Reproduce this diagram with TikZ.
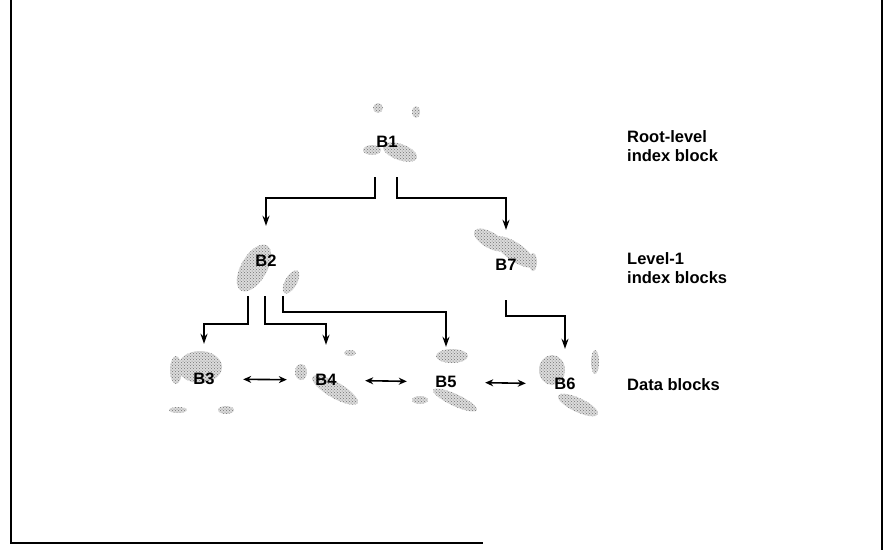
\documentclass[tikz,border=0pt]{standalone}
\usepackage{fontspec}
\setmainfont{Liberation Sans}
\usetikzlibrary{arrows.meta,patterns,backgrounds}
\definecolor{smudgegray}{gray}{0.45}

\tikzset{
  blk/.style={minimum width=76pt, minimum height=70pt, inner sep=0pt, font=\fontsize{16.5}{19}\selectfont\bfseries},
  side/.style={anchor=west, align=left, inner sep=0pt, font=\fontsize{16.5}{19}\selectfont\bfseries},
  arr/.style={line width=1.5pt, -{Stealth[length=10pt,width=7pt]}},
  darr/.style={line width=1.6pt, {Stealth[length=8pt,width=7pt]}-{Stealth[length=8pt,width=7pt]}, shorten <=1pt, shorten >=1pt},
  smudge/.style={fill=gray!28, postaction={pattern=crosshatch dots, pattern color=smudgegray}}
}

\begin{document}
\begin{tikzpicture}[x=1pt,y=-1pt]
        \useasboundingbox (0,0) rectangle (888,550);
        \draw[line width=2pt] (11,0) -- (11,543) -- (483,543);
        \draw[line width=2pt] (882,0) -- (882,550);

        \node[blk] (b1) at (387,142) {B1};
        \node[blk] (b2) at (266,261) {B2};
        \node[blk] (b7) at (506,265) {B7};
        \node[blk] (b3) at (204,379) {B3};
        \node[blk] (b4) at (326,380) {B4};
        \node[blk] (b5) at (446,382) {B5};
        \node[blk] (b6) at (565,384) {B6};

        \node[side] (lroot) at (627,146) {Root-level\\index block};
        \node[side] (llev) at (627,268) {Level-1\\index blocks};
        \node[side] (ldata) at (627,385) {Data blocks};

        \begin{scope}[on background layer]
        \fill[smudge, rotate around={-20:(400,152)}] (400,152) ellipse (18pt and 8pt);
        \fill[smudge] (372,150) ellipse (9pt and 5pt);
        \fill[smudge] (378,108) ellipse (5pt and 5pt);
        \fill[smudge] (416,112) ellipse (4pt and 6pt);
        \fill[smudge, rotate around={60:(254,268)}] (254,268) ellipse (26pt and 13pt);
        \fill[smudge, rotate around={60:(291,282)}] (291,282) ellipse (13pt and 6pt);
        \fill[smudge, rotate around={-30:(490,240)}] (490,240) ellipse (18pt and 8pt);
        \fill[smudge, rotate around={-35:(515,252)}] (515,252) ellipse (24pt and 9pt);
        \fill[smudge] (533,262) ellipse (4pt and 9pt);
        \fill[smudge] (200,367) ellipse (22pt and 16pt);
        \fill[smudge] (176,370) ellipse (6pt and 14pt);
        \fill[smudge] (178,410) ellipse (9pt and 3pt);
        \fill[smudge] (226,410) ellipse (8pt and 4pt);
        \fill[smudge, rotate around={-30:(335,390)}] (335,390) ellipse (26pt and 8pt);
        \fill[smudge] (301,372) ellipse (6pt and 8pt);
        \fill[smudge] (350,353) ellipse (6pt and 3pt);
        \fill[smudge] (452,356) ellipse (16pt and 7pt);
        \fill[smudge, rotate around={-25:(455,400)}] (455,400) ellipse (24pt and 6pt);
        \fill[smudge] (420,400) ellipse (8pt and 4pt);
        \fill[smudge] (552,370) ellipse (13pt and 15pt);
        \fill[smudge] (595,362) ellipse (4pt and 12pt);
        \fill[smudge, rotate around={-25:(578,405)}] (578,405) ellipse (22pt and 7pt);
        \end{scope}

        \draw[arr] ([xshift=-12pt]b1.south) -- ++(0,21) -| (b2.north);
        \draw[arr] ([xshift=10pt]b1.south) -- ++(0,21) -| (b7.north);
        \draw[arr] ([xshift=-18pt]b2.south) -- ++(0,28) -| (b3.north);
        \draw[arr] ([xshift=-1pt]b2.south) -- ++(0,28) -| (b4.north);
        \draw[arr] ([xshift=17pt]b2.south) -- ++(0,16) -| (b5.north);
        \draw[arr] (b7.south) -- ++(0,16) -| (b6.north);
        \draw[darr] (b3) -- (b4);
        \draw[darr] (b4) -- (b5);
        \draw[darr] (b5) -- (b6);
\end{tikzpicture}
\end{document}
